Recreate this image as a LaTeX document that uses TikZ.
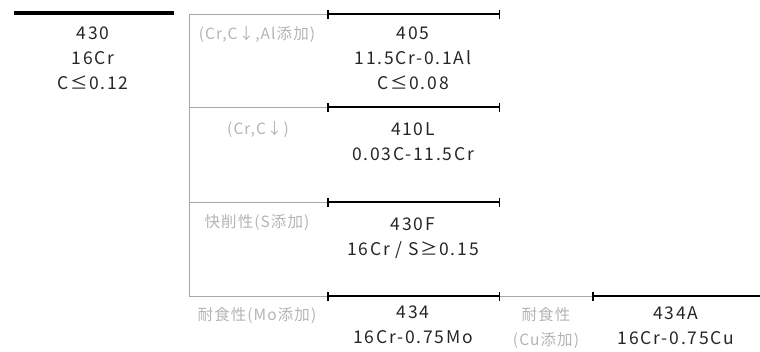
\documentclass[tikz,border=0pt]{standalone}
\usepackage{fontspec}
\setmainfont{Noto Sans CJK JP}
\newfontfamily\wideblack[LetterSpace=10]{Noto Sans CJK JP}
\newfontfamily\widegray[LetterSpace=7]{Noto Sans CJK JP}
\usetikzlibrary{arrows.meta}
\definecolor{lab}{HTML}{B4B4B4}
\definecolor{gline}{HTML}{A8A8A8}
\tikzset{
  txt/.style={font=\wideblack\fontsize{17.5}{25}\selectfont, align=center, text=black!85, inner sep=0pt, anchor=north},
  glab/.style={font=\widegray\fontsize{15.5}{25}\selectfont, align=center, text=lab, inner sep=0pt, anchor=north},
  gl/.style={draw=gline, line width=1pt},
  barline/.style={line width=2pt, {Bar[width=9pt,line width=1.5pt]}-{Bar[width=9pt,line width=1.5pt]}},
  lbar/.style={line width=2pt, {Bar[width=9pt,line width=1.5pt]}-},
}
\begin{document}
\begin{tikzpicture}[x=1pt,y=-1pt]
\useasboundingbox (0,0) rectangle (760,351);
% root
\coordinate (r1) at (14,13); \coordinate (r2) at (174,13);
\draw[line width=4pt] (r1) -- (r2);
\node[txt] (n430) at (93,27) {430\\16Cr\\C≤0.12};
% tree trunk
\coordinate (t0) at (189,14);
\coordinate (t1) at (189,107);
\coordinate (t2) at (189,202);
\coordinate (t3) at (189,296);
\coordinate (a0) at (327,14); \coordinate (b0) at (500,14);
\coordinate (a1) at (327,107); \coordinate (b1) at (500,107);
\coordinate (a2) at (327,202); \coordinate (b2) at (500,202);
\coordinate (a3) at (327,296); \coordinate (b3) at (500,296);
\coordinate (a4) at (592,296); \coordinate (b4) at (760,296);
\draw[gl] (t0) -- (t3);
\draw[gl] (t0) -- (a0);
\draw[gl] (t1) -- (a1);
\draw[gl] (t2) -- (a2);
\draw[gl] (t3) -- (a3);
\draw[gl] (b3) -- (a4);
\draw[barline] (a0) -- (b0);
\draw[barline] (a1) -- (b1);
\draw[barline] (a2) -- (b2);
\draw[barline] (a3) -- (b3);
\draw[lbar] (a4) -- (b4);
% gray labels
\node[glab] (l1) at (257,26) {(Cr,C↓,Al添加)};
\node[glab] (l2) at (258,121) {(Cr,C↓)};
\node[glab] (l3) at (257,214) {快削性(S添加)};
\node[glab] (l4) at (257,307) {耐食性(Mo添加)};
\node[glab] (l5) at (546,307) {耐食性\\(Cu添加)};
% grade texts
\node[txt] (n405) at (413,27) {405\\11.5Cr-0.1Al\\C≤0.08};
\node[txt] (n410) at (413,122) {410L\\0.03C-11.5Cr};
\node[txt] (n430F) at (413,217) {430F\\16Cr / S≥0.15};
\node[txt] (n434) at (413,306) {434\\16Cr-0.75Mo};
\node[txt] (n434A) at (676,306) {434A\\16Cr-0.75Cu};
\end{tikzpicture}
\end{document}
